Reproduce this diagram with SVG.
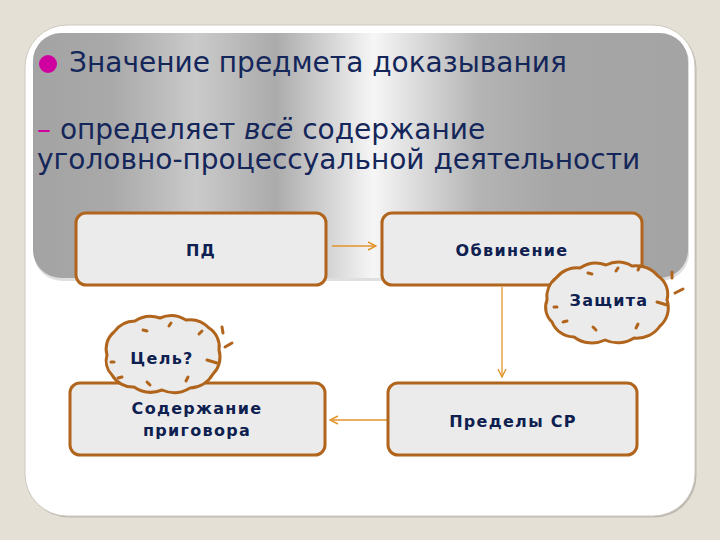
<svg xmlns="http://www.w3.org/2000/svg" width="720" height="540" viewBox="0 0 720 540">
<defs>
<linearGradient id="panelGrad" x1="33" y1="0" x2="688" y2="0" gradientUnits="userSpaceOnUse">
<stop offset="0" stop-color="#a3a3a3"/>
<stop offset="0.12" stop-color="#a9a9a9"/>
<stop offset="0.25" stop-color="#cacaca"/>
<stop offset="0.37" stop-color="#ababab"/>
<stop offset="0.52" stop-color="#f6f6f6"/>
<stop offset="0.68" stop-color="#b4b4b4"/>
<stop offset="0.8" stop-color="#a6a6a6"/>
<stop offset="1" stop-color="#a4a4a4"/>
</linearGradient>
<marker id="arr" viewBox="0 0 10 10" refX="9" refY="5" markerWidth="10" markerHeight="10" markerUnits="userSpaceOnUse" orient="auto">
<path d="M1,1 L9,5 L1,9" fill="none" stroke="#e0952c" stroke-width="1.4"/>
</marker>
<style>
.title{font-family:"DejaVu Sans","Noto Sans",sans-serif;font-size:28px;fill:#14265a;}
.box{fill:#ebebeb;stroke:#b0641c;stroke-width:3;}
.cloud{fill:#ebebeb;stroke:#b0641c;stroke-width:3;stroke-linejoin:round;}
.dash{stroke:#b0641c;stroke-width:3;stroke-linecap:round;fill:none;}
.lbl{font-family:"DejaVu Sans","Noto Sans",sans-serif;font-weight:bold;font-size:16px;fill:#0e2050;text-anchor:middle;letter-spacing:1.3px;}
.conn{stroke:#e0952c;stroke-width:1.3;fill:none;}
</style>
</defs>
<rect x="0" y="0" width="720" height="540" fill="#e5e0d6"/>
<rect x="26.5" y="26.5" width="670" height="491" rx="42" fill="#bdb9b1"/>
<rect x="25" y="25" width="670" height="491" rx="42" fill="#ffffff" stroke="#cdc9c1" stroke-width="1"/>
<rect x="34" y="35" width="655" height="246" rx="28" fill="#c9c9c9" opacity="0.6"/>
<rect x="33" y="33" width="655" height="245" rx="28" fill="url(#panelGrad)"/>

<circle cx="48" cy="64" r="9" fill="#d000a0"/>
<text class="title" x="69" y="72">Значение предмета доказывания</text>
<text class="title" x="37" y="139"><tspan fill="#d000a0">–</tspan> определяет <tspan font-style="italic">всё</tspan> содержание</text>
<text class="title" x="37" y="169">уголовно-процессуальной деятельности</text>

<g id="connectors">
<line class="conn" x1="332" y1="246" x2="376" y2="246" marker-end="url(#arr)"/>
<line class="conn" x1="502" y1="287" x2="502" y2="377" marker-end="url(#arr)"/>
<line class="conn" x1="387" y1="420" x2="330" y2="420" marker-end="url(#arr)"/>
</g>

<g id="node-pd">
<rect class="box" x="76" y="213" width="250" height="72" rx="10"/>
<text class="lbl" x="201" y="256">ПД</text>
</g>
<g id="node-obvinenie">
<rect class="box" x="382" y="213" width="260" height="72" rx="10"/>
<text class="lbl" x="512" y="256">Обвинение</text>
</g>
<g id="node-predely">
<rect class="box" x="388" y="383" width="249" height="72" rx="10"/>
<text class="lbl" x="513" y="427">Пределы СР</text>
</g>
<g id="node-soderzhanie">
<rect class="box" x="70" y="383" width="255" height="72" rx="10"/>
<text class="lbl" x="197" y="414">Содержание</text>
<text class="lbl" x="197" y="436">приговора</text>
</g>

<g id="node-zashchita">
<path class="cloud" d="M547,300 A24,24 0 0 1 556,278 A26,26 0 0 1 580,268 A28,28 0 0 1 606,265 A28,28 0 0 1 632,266 A28,28 0 0 1 658,276 A22,22 0 0 1 667,300 A24,24 0 0 1 660,326 A28,28 0 0 1 634,338 A30,30 0 0 1 605,340 A30,30 0 0 1 574,337 A24,24 0 0 1 552,322 A20,20 0 0 1 547,300 Z"/>
<path class="dash" d="M588,273 l4,1 M616,271 l2,-3 M638,270 l2,-4 M554,307 l3,0 M563,322 l4,-1 M593,327 l3,3 M636,328 l2,-4 M672,272 l0,6 M675,293 l8,-4 M657,302 l10,3"/>
<text class="lbl" x="609" y="306">Защита</text>
</g>

<g id="node-tsel">
<path class="cloud" d="M107,355 A22,22 0 0 1 114,332 A26,26 0 0 1 135,321 A28,28 0 0 1 160,318 A28,28 0 0 1 186,320 A26,26 0 0 1 209,328 A22,22 0 0 1 219,350 A24,24 0 0 1 213,374 A28,28 0 0 1 190,388 A30,30 0 0 1 162,390 A30,30 0 0 1 134,387 A24,24 0 0 1 112,375 A20,20 0 0 1 107,355 Z"/>
<path class="dash" d="M143,330 l4,1 M169,326 l2,-3 M199,334 l3,-3 M111,362 l3,0 M118,378 l4,-1 M147,382 l3,3 M186,381 l2,-4 M222,327 l1,6 M225,347 l7,-4 M207,360 l10,3"/>
<text class="lbl" x="162" y="364">Цель?</text>
</g>
</svg>
